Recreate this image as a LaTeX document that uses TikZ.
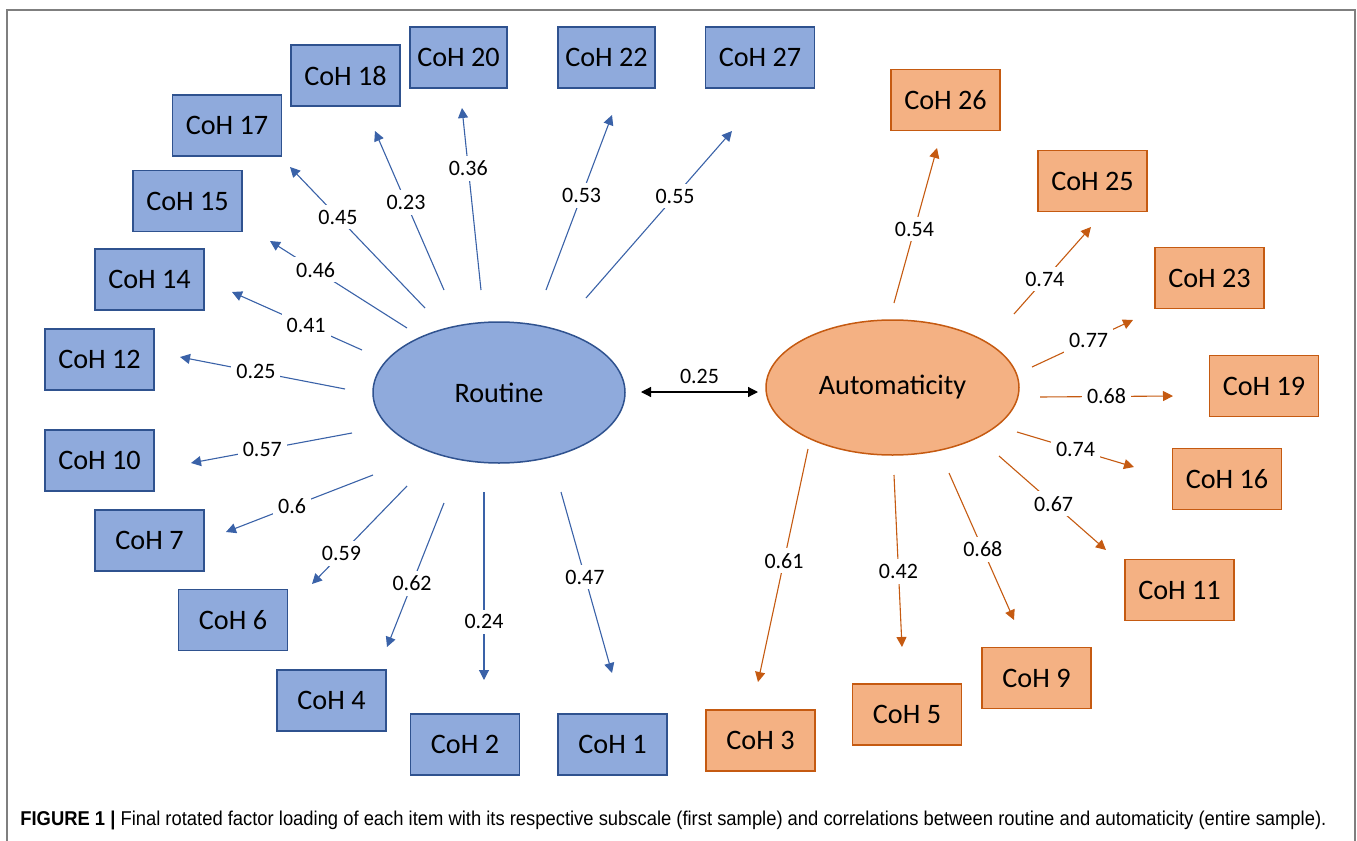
\documentclass[tikz,border=0pt]{standalone}
\usepackage{fontspec}
\setmainfont{Carlito}
\newfontfamily\capfont{Liberation Sans}
\usetikzlibrary{arrows.meta,shapes.geometric}

\definecolor{routinefill}{HTML}{8FAADC}
\definecolor{routinedraw}{HTML}{2F528F}
\definecolor{routineline}{HTML}{3A62A8}
\definecolor{autofill}{HTML}{F4B183}
\definecolor{autodraw}{HTML}{C55A11}
\definecolor{frameline}{HTML}{7F7F7F}

\begin{document}
\begin{tikzpicture}[x=0.5pt, y=-0.5pt,
	item/.style={line width=0.75pt, minimum width=54.5pt, minimum height=30.5pt, inner sep=0pt, font=\fontsize{14.1}{16}\selectfont},
	ritem/.style={item, draw=routinedraw, fill=routinefill},
	aitem/.style={item, draw=autodraw, fill=autofill},
	factor/.style={ellipse, line width=0.75pt, inner sep=0pt, font=\fontsize{14.1}{16}\selectfont},
	load/.style={fill=white, inner sep=2.5pt, font=\fontsize{11}{13}\selectfont},
	rload/.style={draw=routineline, line width=0.55pt, -{Triangle[length=5pt,width=5pt]}},
	aload/.style={draw=autodraw, line width=0.55pt, -{Triangle[length=5pt,width=5pt]}}]
	\useasboundingbox (0,0) rectangle (1357,841);
	\draw[color=frameline, line width=1pt] (7,841) -- (7,10) -- (1355,10) -- (1355,841);

	% factors
	\node (Routine) [factor, draw=routinedraw, fill=routinefill, minimum width=126pt, minimum height=70.5pt] at (499,392.5) {Routine};
	\node (Automaticity) [factor, draw=autodraw, fill=autofill, minimum width=126.5pt, minimum height=67.5pt] at (892.5,387.5) {Automaticity};

	% routine items
	\node (CoH20) [ritem, minimum width=48.5pt] at (458.5,57.5) {CoH 20};
	\node (CoH22) [ritem, minimum width=48.5pt] at (606.5,57.5) {CoH 22};
	\node (CoH27) [ritem] at (760,57.5) {CoH 27};
	\node (CoH18) [ritem] at (345.5,75.5) {CoH 18};
	\node (CoH17) [ritem] at (227,125.5) {CoH 17};
	\node (CoH15) [ritem] at (187.5,201) {CoH 15};
	\node (CoH14) [ritem] at (149.5,279.5) {CoH 14};
	\node (CoH12) [ritem] at (99.5,359.5) {CoH 12};
	\node (CoH10) [ritem] at (99.5,460.5) {CoH 10};
	\node (CoH7) [ritem] at (149.5,540.5) {CoH 7};
	\node (CoH6) [ritem] at (233,620) {CoH 6};
	\node (CoH4) [ritem] at (331.5,700.5) {CoH 4};
	\node (CoH2) [ritem] at (465,744.5) {CoH 2};
	\node (CoH1) [ritem] at (612.5,744.5) {CoH 1};

	% automaticity items
	\node (CoH26) [aitem] at (945.5,100) {CoH 26};
	\node (CoH25) [aitem] at (1092.5,181) {CoH 25};
	\node (CoH23) [aitem] at (1209.5,278) {CoH 23};
	\node (CoH19) [aitem] at (1264,386) {CoH 19};
	\node (CoH16) [aitem] at (1227,479) {CoH 16};
	\node (CoH11) [aitem] at (1179.5,590) {CoH 11};
	\node (CoH9) [aitem] at (1036.5,678) {CoH 9};
	\node (CoH5) [aitem] at (907,714.5) {CoH 5};
	\node (CoH3) [aitem] at (760.5,740.5) {CoH 3};

	% arrow ends
	\coordinate (r20a) at (481,290);  \coordinate (r20b) at (462,108);
	\coordinate (r22a) at (546,290);  \coordinate (r22b) at (612,115);
	\coordinate (r27a) at (586,298);  \coordinate (r27b) at (732,131);
	\coordinate (r18a) at (444,290);  \coordinate (r18b) at (375,131);
	\coordinate (r17a) at (425,308);  \coordinate (r17b) at (290,167);
	\coordinate (r15a) at (407,328);  \coordinate (r15b) at (270,241);
	\coordinate (r14a) at (362,350);  \coordinate (r14b) at (232,292);
	\coordinate (r12a) at (345,389);  \coordinate (r12b) at (180,357);
	\coordinate (r10a) at (352,433);  \coordinate (r10b) at (191,463);
	\coordinate (r7a) at (373,475);   \coordinate (r7b) at (226,532);
	\coordinate (r6a) at (407,486);   \coordinate (r6b) at (312,584);
	\coordinate (r4a) at (444,503);   \coordinate (r4b) at (387,647);
	\coordinate (r2a) at (484,492);   \coordinate (r2b) at (484,680);
	\coordinate (r1a) at (561,492);   \coordinate (r1b) at (612,673);
	\coordinate (a26a) at (894,303);  \coordinate (a26b) at (937,148);
	\coordinate (a25a) at (1014,314); \coordinate (a25b) at (1091,227);
	\coordinate (a23a) at (1032,367); \coordinate (a23b) at (1133,320);
	\coordinate (a19a) at (1040,397); \coordinate (a19b) at (1173,396);
	\coordinate (a16a) at (1017,432); \coordinate (a16b) at (1134,467);
	\coordinate (a11a) at (999,456);  \coordinate (a11b) at (1106,550);
	\coordinate (a9a) at (949,473);   \coordinate (a9b) at (1014,620);
	\coordinate (a5a) at (894,475);   \coordinate (a5b) at (902,647);
	\coordinate (a3a) at (808,449);   \coordinate (a3b) at (758,682);
	\coordinate (corrL) at (641,392); \coordinate (corrR) at (758,392);

	% loadings
	\draw[rload] (r20a) -- node[load, pos=.67] {0.36} (r20b);
	\draw[rload] (r22a) -- node[load, pos=.54] {0.53} (r22b);
	\draw[rload] (r27a) -- node[load, pos=.61] {0.55} (r27b);
	\draw[rload] (r18a) -- node[load, pos=.55] {0.23} (r18b);
	\draw[rload] (r17a) -- node[load, pos=.645] {0.45} (r17b);
	\draw[rload] (r15a) -- node[load, pos=.667] {0.46} (r15b);
	\draw[rload] (r14a) -- node[load, pos=.43] {0.41} (r14b);
	\draw[rload] (r12a) -- node[load, pos=.54] {0.25} (r12b);
	\draw[rload] (r10a) -- node[load, pos=.557] {0.57} (r10b);
	\draw[rload] (r7a) -- node[load, pos=.55] {0.6} (r7b);
	\draw[rload] (r6a) -- node[load, pos=.69] {0.59} (r6b);
	\draw[rload] (r4a) -- node[load, pos=.56] {0.62} (r4b);
	\draw[rload] (r2a) -- node[load, pos=.69] {0.24} (r2b);
	\draw[rload] (r1a) -- node[load, pos=.47] {0.47} (r1b);
	\draw[aload] (a26a) -- node[load, pos=.476] {0.54} (a26b);
	\draw[aload] (a25a) -- node[load, pos=.40] {0.74} (a25b);
	\draw[aload] (a23a) -- node[load, pos=.56] {0.77} (a23b);
	\draw[aload] (a19a) -- node[load, pos=.50] {0.68} (a19b);
	\draw[aload] (a16a) -- node[load, pos=.50] {0.74} (a16b);
	\draw[aload] (a11a) -- node[load, pos=.51] {0.67} (a11b);
	\draw[aload] (a9a) -- node[load, pos=.52] {0.68} (a9b);
	\draw[aload] (a5a) -- node[load, pos=.56] {0.42} (a5b);
	\draw[aload] (a3a) -- node[load, pos=.48] {0.61} (a3b);
	\draw[line width=0.6pt, {Triangle[length=5pt,width=5pt]}-{Triangle[length=5pt,width=5pt]}] (corrL) -- node[above=2pt, inner sep=2pt, font=\fontsize{11}{13}\selectfont] {0.25} (corrR);

	\node (caption) [anchor=base west, inner sep=0pt] at (20,825) {\resizebox{653pt}{\height}{\capfont\fontsize{10}{12}\selectfont\textbf{FIGURE 1 |} Final rotated factor loading of each item with its respective subscale (first sample) and correlations between routine and automaticity (entire sample).}};
\end{tikzpicture}
\end{document}
